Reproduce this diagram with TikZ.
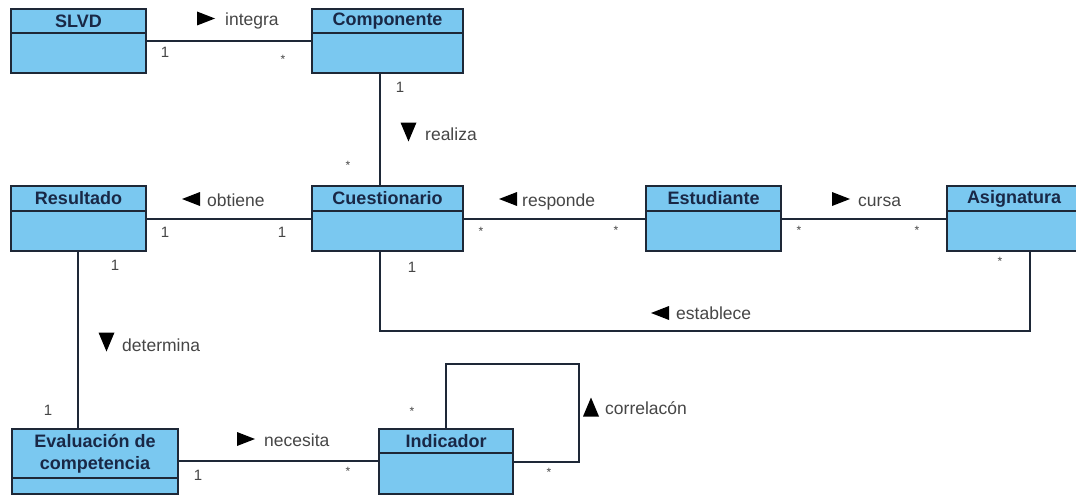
\documentclass[tikz,border=0pt]{standalone}
\usepackage{fontspec}
\setmainfont{Liberation Sans}
\usetikzlibrary{fit}
\definecolor{clsfill}{RGB}{122,200,240}
\definecolor{clsline}{RGB}{30,40,55}
\definecolor{clstext}{RGB}{25,40,70}
\definecolor{lbltext}{RGB}{70,70,70}
\tikzset{
  clsbox/.style={draw=clsline, fill=clsfill, line width=1.6pt, inner sep=0pt, rectangle},
  clsdiv/.style={draw=clsline, line width=1.6pt},
  clstitle/.style={font=\fontsize{18}{22}\selectfont\bfseries, text=clstext, inner sep=0pt, align=center},
  assoc/.style={draw=clsline, line width=1.4pt},
  lbl/.style={font=\fontsize{17.5}{20}\selectfont, text=lbltext, inner sep=0pt, anchor=base west},
  mult/.style={font=\fontsize{15}{17}\selectfont, text=lbltext, inner sep=0pt},
  star/.style={font=\fontsize{12}{14}\selectfont, text=lbltext, inner sep=0pt},
  tri/.style={fill=black},
}
% class box: name, x1, y1, x2, y2, divider y, title
\newcommand{\umlcls}[7]{%
  \node[clsbox, fit={(#2,#3) (#4,#5)}] (#1) {};
  \draw[clsdiv] (#2,#6) -- (#4,#6);
  \node[clstitle] (#1-t) at ({(#2+#4)/2},{(#3+#6)/2}) {#7};
}
\newcommand{\trir}[2]{\fill[tri] (#1-9,#2-7) -- (#1+9,#2) -- (#1-9,#2+7) -- cycle;}
\newcommand{\tril}[2]{\fill[tri] (#1+9,#2-7) -- (#1-9,#2) -- (#1+9,#2+7) -- cycle;}
\newcommand{\trid}[2]{\fill[tri] (#1-8,#2-9.5) -- (#1+8,#2-9.5) -- (#1,#2+9.5) -- cycle;}
\newcommand{\triu}[2]{\fill[tri] (#1-8,#2+9.5) -- (#1+8,#2+9.5) -- (#1,#2-9.5) -- cycle;}
\begin{document}
\begin{tikzpicture}[x=1pt,y=-1pt]
\useasboundingbox (0,0) rectangle (1076,495);
\fill[white] (0,0) rectangle (1076,495);

% connectors (drawn first, under boxes)
\umlcls{slvd}{11}{9}{146}{73}{33}{SLVD}
\umlcls{comp}{312}{9}{463}{73}{33}{Componente}
\umlcls{res}{11}{186}{146}{251}{211}{Resultado}
\umlcls{cuest}{312}{186}{463}{251}{211}{Cuestionario}
\umlcls{est}{646}{186}{781}{251}{211}{Estudiante}
\umlcls{asig}{947}{186}{1081}{251}{211}{Asignatura}
\umlcls{eval}{12}{429}{178}{494}{478}{Evaluación de\\competencia}
\umlcls{ind}{379}{429}{513}{494}{453}{Indicador}

\draw[assoc] (slvd.east |- 0,41) -- (comp.west |- 0,41);
\draw[assoc] (comp.south -| 380,0) -- (cuest.north -| 380,0);
\draw[assoc] (res.east |- 0,219) -- (cuest.west |- 0,219);
\draw[assoc] (cuest.east |- 0,219) -- (est.west |- 0,219);
\draw[assoc] (est.east |- 0,219) -- (asig.west |- 0,219);
\coordinate (e1) at (380,331);
\coordinate (e2) at (1030,331);
\draw[assoc] (cuest.south -| 380,0) -- (e1) -- (e2) -- (asig.south -| 1030,0);
\draw[assoc] (res.south -| 78,0) -- (eval.north -| 78,0);
\draw[assoc] (eval.east |- 0,461) -- (ind.west |- 0,461);
\coordinate (l1) at (446,364);
\coordinate (l2) at (579,364);
\coordinate (l3) at (579,462);
\draw[assoc] (ind.north -| 446,0) -- (l1) -- (l2) -- (l3) -- (ind.east |- 0,462);

% association names
\trir{206}{18.5}
\node[lbl] (n-integra) at (225,26) {integra};
\trid{408.5}{132}
\node[lbl] (n-realiza) at (425,140) {realiza};
\tril{191}{199}
\node[lbl] (n-obtiene) at (207,206) {obtiene};
\tril{508}{199}
\node[lbl] (n-responde) at (522,206) {responde};
\trir{841}{199}
\node[lbl] (n-cursa) at (858,206) {cursa};
\tril{660}{313}
\node[lbl] (n-establece) at (676,319) {establece};
\trid{106.5}{342}
\node[lbl] (n-determina) at (122,351) {determina};
\trir{246}{439}
\node[lbl] (n-necesita) at (264,446) {necesita};
\triu{591}{407}
\node[lbl] (n-correl) at (605,414) {correlacón};

% multiplicities
\node[mult] (m1) at (165,52) {1};
\node[star] (m2) at (283,59) {*};
\node[mult] (m3) at (400,87) {1};
\node[star] (m4) at (348,165) {*};
\node[mult] (m5) at (165,232) {1};
\node[mult] (m6) at (282,232) {1};
\node[star] (m7) at (481,231) {*};
\node[star] (m8) at (616,230) {*};
\node[star] (m9) at (799,230) {*};
\node[star] (m10) at (917,230) {*};
\node[mult] (m11) at (412,267) {1};
\node[star] (m12) at (1000,261) {*};
\node[mult] (m13) at (115,265) {1};
\node[mult] (m14) at (48,410) {1};
\node[mult] (m15) at (198,475) {1};
\node[star] (m16) at (348,471) {*};
\node[star] (m17) at (412,411) {*};
\node[star] (m18) at (549,472) {*};
\end{tikzpicture}
\end{document}
